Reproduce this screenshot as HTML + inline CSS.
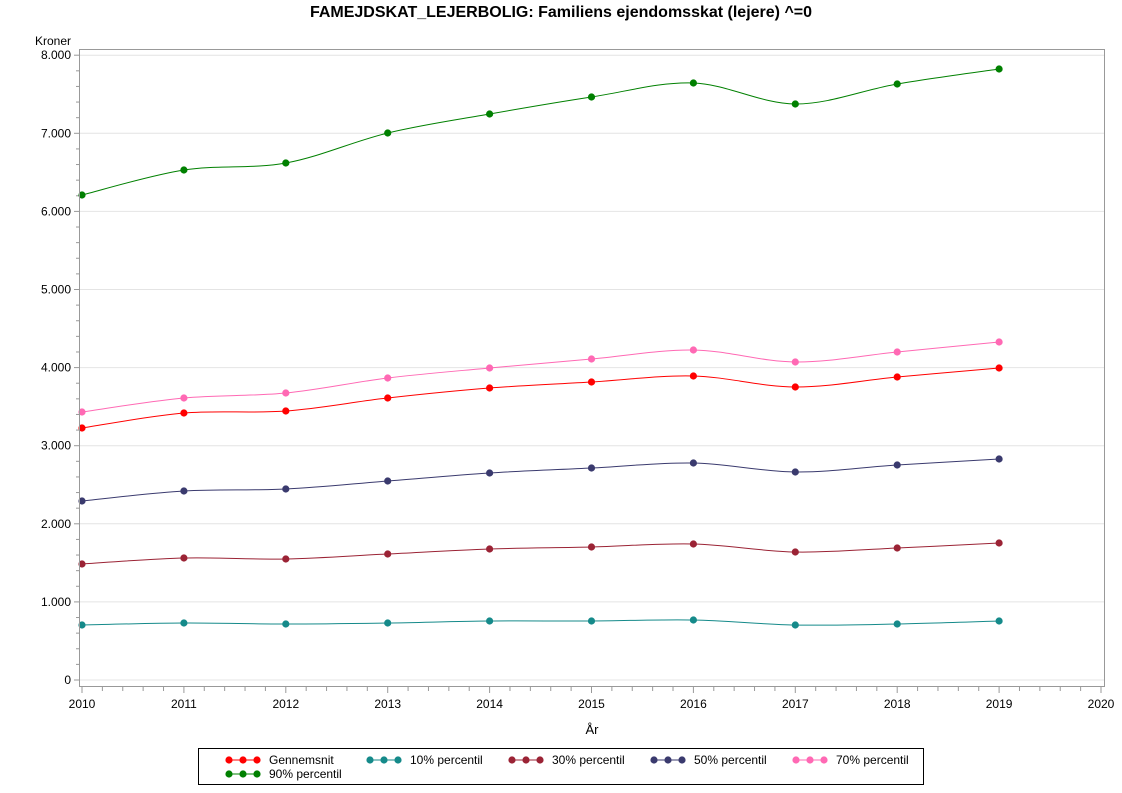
<!DOCTYPE html>
<html><head><meta charset="utf-8"><style>
body{margin:0;background:#fff;width:1122px;height:793px;overflow:hidden}
svg{display:block;font-family:"Liberation Sans",Arial,sans-serif}
</style></head><body>
<svg id="s" width="1122" height="793" xmlns="http://www.w3.org/2000/svg">
<text x="561" y="17" text-anchor="middle" font-size="16" font-weight="bold" fill="#000">FAMEJDSKAT_LEJERBOLIG: Familiens ejendomsskat (lejere) ^=0</text>
<text x="35" y="45" font-size="12" fill="#000">Kroner</text>
<text x="592" y="734" text-anchor="middle" font-size="13" fill="#000">År</text>
<g id="g"></g>
<rect x="79.5" y="49.5" width="1025" height="637" fill="none" stroke="#999"/>
<rect x="198.5" y="748.5" width="725" height="36" fill="none" stroke="#000"/>
<g id="leg" font-size="12" fill="#000"></g>
</svg>
<script>
const g=document.getElementById('g'),L=document.getElementById('leg');
const NS='http://www.w3.org/2000/svg';
function el(t,a,p){const e=document.createElementNS(NS,t);for(const k in a)e.setAttribute(k,a[k]);(p||g).appendChild(e);return e;}
const Y=v=>680-v*0.0781, X=i=>82+i*101.9;
// grid + y ticks
for(let v=0;v<=8000;v+=1000){const y=Y(v);el('line',{x1:80,x2:1104,y1:y,y2:y,stroke:'#e4e4e4'});
 el('line',{x1:74,x2:79,y1:y,y2:y,stroke:'#999'});
 const t=el('text',{x:71,y:y+4,'text-anchor':'end','font-size':12,fill:'#000'});t.textContent=v==0?'0':(v/1000)+'.000';}
for(let v=200;v<8000;v+=200){if(v%1000)el('line',{x1:76,x2:79,y1:Y(v),y2:Y(v),stroke:'#999'});}
for(let i=0;i<=10;i++){const x=X(i);el('line',{x1:x,x2:x,y1:687,y2:693,stroke:'#999'});
 const t=el('text',{x:x,y:708,'text-anchor':'middle','font-size':12,fill:'#000'});t.textContent=2010+i;
 if(i<10)for(let k=1;k<5;k++){const xx=x+k*101.9/5;el('line',{x1:xx,x2:xx,y1:687,y2:691,stroke:'#999'});}}
const S=[
['#008000',[195,170,163,133,114,97,83,104,84,69]],
['#ff69b4',[412,398,393,378,368,359,350,362,352,342]],
['#ff0000',[428,413,411,398,388,382,376,387,377,368]],
['#3a3a6e',[501,491,489,481,473,468,463,472,465,459]],
['#9b2335',[564,558,559,554,549,547,544,552,548,543]],
['#158a8a',[625,623,624,623,621,621,620,625,624,621]]];
S.forEach(([c,ys])=>{const P=ys.map((y,i)=>[X(i),y]);let d='M'+P[0];
 for(let i=0;i<P.length-1;i++){const p0=P[i-1]||P[i],p1=P[i],p2=P[i+1],p3=P[i+2]||P[i+1];
  d+=` C${p1[0]+(p2[0]-p0[0])/6},${p1[1]+(p2[1]-p0[1])/6} ${p2[0]-(p3[0]-p1[0])/6},${p2[1]-(p3[1]-p1[1])/6} ${p2[0]},${p2[1]}`;}
 el('path',{d:d,fill:'none',stroke:c,'stroke-width':1});
 P.forEach(p=>el('circle',{cx:p[0],cy:p[1],r:3.6,fill:c}));});
const LG=[['#ff0000','Gennemsnit',229,760],['#158a8a','10% percentil',370,760],['#9b2335','30% percentil',512,760],['#3a3a6e','50% percentil',654,760],['#ff69b4','70% percentil',796,760],['#008000','90% percentil',229,774]];
LG.forEach(([c,t,x,y])=>{el('line',{x1:x,x2:x+28,y1:y,y2:y,stroke:c},L);
 [0,14,28].forEach(d=>el('circle',{cx:x+d,cy:y,r:3.6,fill:c},L));
 const tx=el('text',{x:x+40,y:y+4},L);tx.textContent=t;});
</script>
</body></html>
